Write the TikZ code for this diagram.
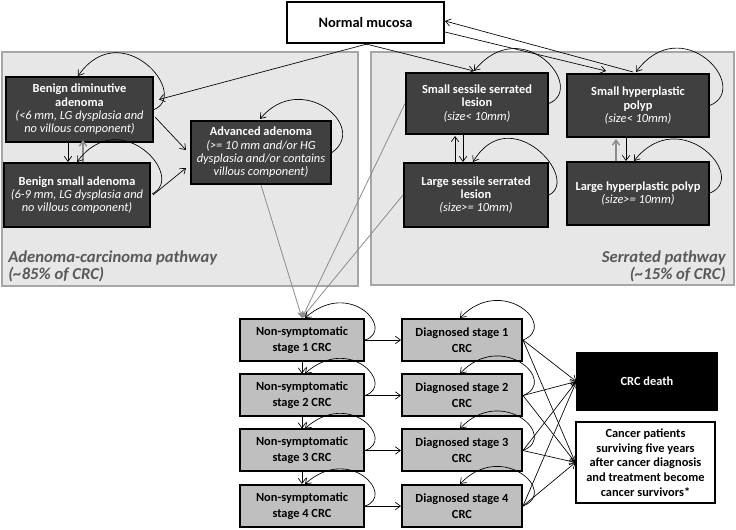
\documentclass[tikz,border=0pt]{standalone}
\usepackage{fontspec}
\setmainfont{Carlito}
\usetikzlibrary{calc,arrows.meta}
\definecolor{darkbox}{HTML}{404040}
\definecolor{graybox}{HTML}{BFBFBF}
\definecolor{panelfill}{HTML}{E7E7E7}
\definecolor{panelline}{HTML}{A6A6A6}
\definecolor{labelgray}{HTML}{595959}
\definecolor{linkgray}{HTML}{8C8C8C}
\begin{document}
\begin{tikzpicture}[x=0.75pt,y=-0.75pt,
  sz/.style 2 args={minimum width=#1*0.75pt,minimum height=#2*0.75pt,inner sep=0pt},
  panel/.style={draw=panelline,line width=0.8pt,fill=panelfill},
  plabel/.style={text=labelgray,font=\fontsize{12.5}{12.8}\selectfont\bfseries\itshape,inner sep=0pt},
  darknode/.style={draw=black,line width=1.5pt,fill=darkbox,text=white,align=center,
    font=\fontsize{9.3}{10}\selectfont},
  graynode/.style={draw=black,line width=1.5pt,fill=graybox,text=black,align=center,
    font=\fontsize{9.3}{12}\selectfont\bfseries},
  whitenode/.style={draw=black,line width=1.5pt,fill=white,text=black,align=center,
    font=\fontsize{10.8}{12}\selectfont\bfseries},
  arr/.style={line width=0.5pt,-{Straight Barb[length=3.8pt,width=5.5pt]}},
  garr/.style={line width=0.6pt,draw=linkgray,-{Stealth[length=5pt,width=4.5pt]},linkgray},
  gup/.style={line width=1pt,draw=linkgray,-{Straight Barb[length=3.8pt,width=5.5pt]}}
]
\useasboundingbox (0,0) rectangle (736,530);
\newcommand{\ttl}[1]{\textbf{#1}}
\newcommand{\subt}[1]{\textit{#1}}

% panels
\node[panel,sz={356}{234}] (lp) at (180,169) {};
\node[panel,sz={363}{233}] (rp) at (552.5,168.5) {};
\node[plabel,anchor=west,align=left] (lpl) at (8,266) {Adenoma-carcinoma pathway\\(\textasciitilde85\% of CRC)};
\node[plabel,anchor=east,align=right] (rpl) at (726,266) {Serrated pathway\\(\textasciitilde15\% of CRC)};

% top
\node[whitenode,sz={157}{41}] (nm) at (365.5,22.5) {Normal mucosa};

% adenoma pathway
\node[darknode,sz={147}{65}] (bd) at (79.5,109.5) {\ttl{Benign diminutive}\\\ttl{adenoma}\\\subt{(<6 mm, LG  dysplasia and}\\\subt{no villous component)}};
\node[darknode,sz={146}{64}] (bs) at (77,195) {\ttl{Benign small adenoma}\\\subt{(6-9 mm, LG dysplasia and}\\\subt{no villous component)}};
\node[darknode,sz={140}{63}] (aa) at (261,152.5) {\ttl{Advanced adenoma}\\\subt{(>= 10 mm and/or HG}\\\subt{dysplasia and/or contains}\\\subt{villous component)}};

% serrated pathway
\node[darknode,sz={142}{61}] (ssl) at (477,103.5) {\ttl{Small sessile serrated}\\\ttl{lesion}\\\subt{(size< 10mm)}};
\node[darknode,sz={142}{63}] (shp) at (638,105.5) {\ttl{Small hyperplastic}\\\ttl{polyp}\\\subt{(size< 10mm)}};
\node[darknode,sz={144}{64}] (lsl) at (476,195) {\ttl{Large sessile serrated}\\\ttl{lesion}\\\subt{(size>= 10mm)}};
\node[darknode,sz={142}{63}] (lhp) at (638,193.5) {\ttl{Large hyperplastic polyp}\\\subt{(size>= 10mm)}};

% CRC stages
\foreach \i/\y in {1/340,2/395.5,3/450.5,4/506}{
  \node[graynode,sz={124}{42}] (ns\i) at (302,\y) {Non-symptomatic\\stage \i\ CRC};
  \node[graynode,sz={120}{42}] (d\i) at (462,\y) {Diagnosed stage \i\\CRC};
}
\node[draw=black,line width=1pt,fill=black,text=white,font=\fontsize{9.3}{11}\selectfont\bfseries,sz={140}{57}] (death) at (647,381.5) {CRC death};
\node[draw=black,line width=1pt,fill=white,align=center,font=\fontsize{9.3}{11}\selectfont\bfseries,sz={139}{81}] (surv) at (645.5,462.5) {Cancer patients\\surviving five years\\after cancer diagnosis\\and treatment become\\cancer survivors*};

% normal mucosa connectors
\draw[arr] ($(nm.south)+(1.5,0)$) -- ($(bd.east)+(5,-10)$);
\draw[arr] ($(nm.south)+(0.5,0)$) -- ($(ssl.north)+(-3,-1)$);
\draw[arr] ($(nm.east)+(0,9.5)$) -- ($(shp.north)+(-32,-2)$);
\draw[arr] ($(shp.north)+(-5,-1)$) -- ($(nm.east)+(0,-1.5)$);

% adenoma pathway connectors
\draw[arr] ($(bd.east)+(1,7.5)$) -- ($(aa.west)+(-4,-2.5)$);
\draw[arr] ($(bs.east)+(2,0)$) -- ($(aa.west)+(-4,15.5)$);
\draw[arr] ($(bd.south)+(-11.5,0)$) -- ($(bs.north)+(-9,0)$);
\draw[gup] ($(bs.north)+(6,0)$) -- ($(bd.south)+(3.5,-3)$);
\draw[arr] ($(bd.east)+(-1,0.5)$) .. controls ($(bd.east)+(38,-14)$) and ($(bd.north)+(42,-62)$) .. ($(bd.north)+(-1.5,0)$);
\draw[arr] ($(bs.east)+(1,-1)$) .. controls ($(bs.east)+(36,-18)$) and ($(bs.north)+(43,-58)$) .. ($(bs.north)+(0,0)$);
\draw[arr] (aa.east) .. controls ($(aa.east)+(37,-26)$) and ($(aa.north)+(40,-50)$) .. ($(aa.north)+(-1,-1)$);

% serrated connectors
\draw[arr] ($(lsl.north)+(-21,0)$) -- ($(ssl.south)+(-22,1)$);
\draw[arr] ($(ssl.south)+(-14,0)$) -- ($(lsl.north)+(-13,0)$);
\draw[gup] ($(lhp.north)+(-22,0)$) -- ($(shp.south)+(-22,1)$);
\draw[arr] ($(shp.south)+(-12,0)$) -- ($(lhp.north)+(-12,0)$);
\draw[arr] (ssl.east) .. controls ($(ssl.east)+(38,-16)$) and ($(ssl.north)+(45,-60)$) .. ($(ssl.north)+(-3,-1)$);
\draw[arr] (shp.east) .. controls ($(shp.east)+(42,-18)$) and ($(shp.north)+(44,-63)$) .. ($(shp.north)+(-2,-1)$);
\draw[arr] (lsl.east) .. controls ($(lsl.east)+(32,-16)$) and ($(lsl.north)+(34,-62)$) .. ($(lsl.north)+(-3,0)$);
\draw[arr] ($(lhp.east)+(0,-0.5)$) .. controls ($(lhp.east)+(39,-16)$) and ($(lhp.north)+(42,-58)$) .. ($(lhp.north)+(-4,0)$);

% pathways to CRC
\draw[garr] (aa.south) -- (ns1.north);
\draw[garr] (ssl.west) -- (ns1.north);
\draw[garr] (lsl.west) -- (ns1.north);

% CRC stage connectors
\foreach \i in {1,2,3,4}{
  \draw[arr] (ns\i.east) .. controls ($(ns\i.east)+(31,-10)$) and ($(ns\i.north)+(48,-40)$) .. ($(ns\i.north)+(3,0)$);
  \draw[arr] (ns\i.east) -- (d\i.west);
  \draw[arr] (d\i.east) .. controls ($(d\i.east)+(36,-14)$) and ($(d\i.north)+(40,-44)$) .. ($(d\i.north)+(-2,0)$);
  \draw[arr] (d\i.east) -- (death.west);
  \draw[arr] (d\i.east) -- (surv.west);
}
\draw[arr] (ns1.south) -- (ns2.north);
\draw[arr] (ns2.south) -- (ns3.north);
\draw[arr] (ns3.south) -- (ns4.north);
\end{tikzpicture}
\end{document}
